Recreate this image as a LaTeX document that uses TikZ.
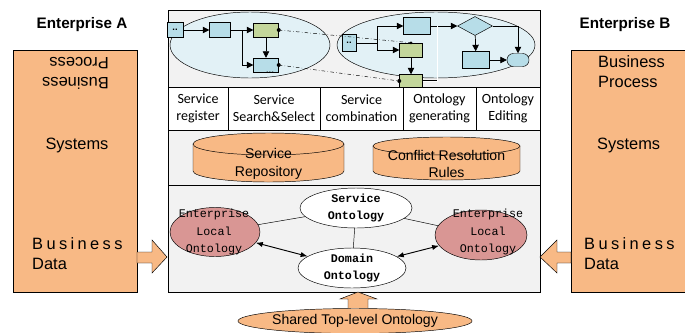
\documentclass[tikz,border=0pt]{standalone}
\usepackage{fontspec}
\setmainfont{Liberation Sans}
\newfontfamily\cellfont{Carlito}
\newfontfamily\ontofont{Liberation Mono}
\usetikzlibrary{positioning,arrows.meta,shapes.geometric,calc}
\definecolor{entorange}{HTML}{F8B985}
\definecolor{flowbg}{HTML}{E2F1F6}
\definecolor{taskblue}{HTML}{B7DDE8}
\definecolor{taskgreen}{HTML}{C3D69B}
\definecolor{localpink}{HTML}{D99694}
\definecolor{bandgray}{HTML}{F2F2F2}
\newcommand{\ls}{\hspace{2.9pt}}
\tikzset{
  entbox/.style={rectangle, draw, fill=entorange, minimum width=3.72cm, minimum height=7.26cm, inner sep=0pt},
  enttitle/.style={font=\fontsize{13}{15}\selectfont\bfseries, inner sep=0pt},
  enttext/.style={font=\fontsize{14}{17}\selectfont, inner sep=0pt},
  fatarrow/.style={draw, fill=entorange, line join=miter},
  flowarea/.style={ellipse, draw, fill=flowbg, minimum height=1.98cm, inner sep=0pt},
  task/.style={rectangle, draw, fill=taskblue, inner sep=0pt, font=\footnotesize\bfseries},
  ontotask/.style={task, fill=taskgreen},
  flow/.style={-{Triangle[length=5.5pt,width=5.5pt]}, semithick},
  link/.style={dash dot, thin},
  cell/.style={rectangle, draw, fill=white, minimum height=1.29cm, inner sep=0pt, align=center,
               font=\cellfont\fontsize{12}{14.5}\selectfont},
  cyl/.style={draw, fill=entorange},
  cyltext/.style={align=center, inner sep=0pt, font=\fontsize{12}{15.3}\selectfont},
  onto/.style={ellipse, draw, fill=white, inner sep=0pt},
  local/.style={onto, fill=localpink},
  ontotext/.style={align=center, inner sep=0pt, font=\ontofont\fontsize{10}{15}\selectfont},
  twoway/.style={{Latex[length=6pt]}-{Latex[length=6pt]}, thick},
}

\begin{document}
\begin{tikzpicture}[x=0.03cm, y=-0.03cm]
  \useasboundingbox (0,0) rectangle (685,332);

  % enterprises
  \node[entbox] (entA) at (75,171) {};
  \node[entbox, minimum width=3.51cm] (entB) at (629.5,171) {};
  \node[enttitle] (titleA) at (82,25) {Enterprise A};
  \node[enttitle] (titleB) at (625,25) {Enterprise B};
  \node[enttext, rotate=180, align=left] (procA) at (75.5,73) {Business\\Process};
  \node[enttext] (sysA) at (77,145) {Systems};
  \node[enttext, anchor=west, align=left] (dataA) at (32,254) {B\ls u\ls s\ls i\ls n\ls e\ls s\ls s\\Data};
  \node[enttext, anchor=west, align=left] (procB) at (598,72) {Business\\Process};
  \node[enttext, anchor=west] (sysB) at (597,145) {Systems};
  \node[enttext, anchor=west, align=left] (dataB) at (584,254) {B\ls u\ls s\ls i\ls n\ls e\ls s\ls s\\Data};

  % platform
  \draw[fill=bandgray] (168,10) rectangle (540,292);
  \draw (168,87) -- (540,87);
  \draw (168,130) -- (540,130);
  \draw (168,185) -- (540,185);

  \draw[fatarrow] (137,252) -- (152,252) -- (152,240) -- (167,257) -- (152,273) -- (152,263) -- (137,263) -- cycle;
  \draw[fatarrow] (571,252) -- (557,252) -- (557,240) -- (540,257) -- (557,273) -- (557,263) -- (571,263) -- cycle;

  % process flows
  \node[flowarea, minimum width=4.8cm] (flowL) at (250,45) {};
  \node[flowarea, minimum width=5.94cm] (flowR) at (436,45) {};

  \node[task, minimum width=0.48cm, minimum height=0.45cm] (b1) at (175,30) {..};
  \node[task, minimum width=0.63cm, minimum height=0.45cm] (b2) at (220,30) {};
  \node[ontotask, minimum width=0.75cm, minimum height=0.42cm] (b3) at (266,30) {};
  \node[task, minimum width=0.75cm, minimum height=0.42cm] (b4) at (266,65) {};
  \node[font=\footnotesize\bfseries, inner sep=0pt] (b4dots) at (270,73) {...};
  \draw[flow] (b1) -- (b2);
  \draw[flow] (b2) -- (b3);
  \draw[flow] ($(b2.east)!.5!(b3.west)$) |- (b4.west);
  \draw[flow] (b3) -- (b4);

  \node[task, minimum width=0.42cm, minimum height=0.51cm] (r1) at (349,43) {..};
  \node[task, minimum width=0.81cm, minimum height=0.51cm] (r2) at (417,26) {};
  \node[ontotask, minimum width=0.69cm, minimum height=0.42cm] (r3) at (411,50) {};
  \node[ontotask, minimum width=0.69cm, minimum height=0.39cm] (r4) at (411,81) {};
  \node[diamond, draw, fill=taskblue, inner sep=0pt, minimum width=1.05cm, minimum height=0.57cm] (dia) at (475,26) {};
  \node[task, minimum width=0.81cm, minimum height=0.51cm] (r5) at (476,60) {};
  \node[task, rounded corners=0.19cm, minimum width=0.66cm, minimum height=0.39cm] (term) at (518,60) {};
  \coordinate (fork) at ($(r1.east)!.5!(r3.west)$);
  \draw (r1.east) -- (fork |- r1.east);
  \draw[flow] (fork |- r1.east) |- (r2.west);
  \draw[flow] (fork |- r1.east) |- (r3.west);
  \draw[flow] (r2) -- (dia);
  \draw[flow] (r3) -- (r4);
  \draw[double, thin] (r4.east) -| ($(r2.east)!.25!(dia.west)$);
  \draw[flow] (dia) -- (r5);
  \draw[flow] (dia.east) -| (term.north);
  \draw[flow] (r5) -- (term);

  \draw[link] (b3.east) -- (r3.north);
  \draw[link] (b4.east) -- (r4.west);
  \fill (b3.east) circle[radius=2];
  \fill (b4.east) circle[radius=2];
  \fill (r3.north) circle[radius=1.5];
  \fill (r4.west) circle[radius=2];

  % services
  \node[cell, minimum width=1.8cm] (register) at (198,108.5) {Service\\register};
  \node[cell, minimum width=2.76cm] (search) at (274,108.5) {Service\\Search\&Select};
  \node[cell, minimum width=2.49cm] (combine) at (361.5,108.5) {Service\\combination};
  \node[cell, minimum width=2.19cm] (generate) at (439.5,108.5) {Ontology\\generating};
  \node[cell, minimum width=1.92cm] (edit) at (508,108.5) {Ontology\\Editing};

  % repositories
  \draw[cyl] (193,144) -- (193,171) arc[start angle=180, end angle=0, x radius=75.5, y radius=11] -- (344,144);
  \draw[cyl] (268.5,144) ellipse[x radius=75.5, y radius=11];
  \node[cyltext] (repo) at (268.5,164) {Service\\Repository};
  \draw[cyl] (373,146) -- (373,171) arc[start angle=180, end angle=0, x radius=73.5, y radius=9] -- (520,146);
  \draw[cyl] (446.5,146) ellipse[x radius=73.5, y radius=9];
  \node[cyltext] (rules) at (446.5,164) {Conflict Resolution\\Rules};

  % ontologies
  \node[onto, minimum width=3.36cm, minimum height=1.2cm] (svc) at (356,208) {};
  \node[onto, minimum width=3.24cm, minimum height=1.2cm] (dom) at (352,268) {};
  \node[local, minimum width=2.7cm, minimum height=1.47cm] (eloA) at (215,232) {};
  \node[local, minimum width=2.76cm, minimum height=1.5cm] (eloB) at (481,235) {};
  \node[ontotext, font=\ontofont\fontsize{10}{15.3}\selectfont\bfseries] (svctxt) at (svc) {Service\\Ontology};
  \node[ontotext, font=\ontofont\fontsize{10}{15.3}\selectfont\bfseries] (domtxt) at (dom) {Domain\\Ontology};
  \node[ontotext] (eloAtxt) at (214,232) {Enterprise\\Local\\Ontology};
  \node[ontotext] (eloBtxt) at (488,232) {Enterprise\\Local\\Ontology};
  \draw (svc) -- (eloA);
  \draw (svc) -- (eloB);
  \draw (svc) -- (dom);
  \draw[twoway] (eloA) -- (dom);
  \draw[twoway] (dom) -- (eloB);

  \node[onto, fill=entorange, minimum width=7.02cm, minimum height=0.75cm] (shared) at (355,321) {};
  \node[cyltext] (sharedtxt) at (shared) {Shared Top-level Ontology};
  \draw[fatarrow] (348,308) -- (348,299) -- (340,299) -- (358,292) -- (377,299) -- (368,299) -- (368,308);
\end{tikzpicture}
\end{document}
